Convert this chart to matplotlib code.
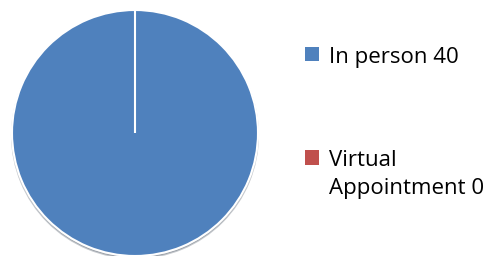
import matplotlib.pyplot as plt

# Appointment type counts
labels = ['In person', 'Virtual\nAppointment']
counts = [40, 0]
colors = ['#4F81BD', '#C0504D']

plt.rcParams['font.family'] = ['Open Sans', 'DejaVu Sans']

fig = plt.figure(figsize=(4.92, 2.56), dpi=100)
ax = fig.add_axes([12 / 492, 0.0, 246 / 492, 246 / 256])

wedges, _ = ax.pie(counts, colors=colors, startangle=90, counterclock=False,
                   radius=1.0,
                   wedgeprops=dict(edgecolor='white', linewidth=1.5),
                   shadow=dict(ox=0.0, oy=-0.012, alpha=0.25))
for w in wedges:
    w.set_clip_on(False)
ax.set_xlim(-1, 1)
ax.set_ylim(-1, 1)
ax.set_aspect('equal')

leg_labels = [f'{l} {c}' for l, c in zip(labels, counts)]
leg = fig.legend(wedges, leg_labels, loc='upper left',
                 bbox_to_anchor=(305 / 492, 1 - 47 / 256),
                 frameon=False, fontsize=16, handlelength=0.62, handleheight=0.62,
                 handletextpad=0.47, labelspacing=3.7, borderaxespad=0,
                 borderpad=0)
for t in leg.get_texts():
    t.set_linespacing(1.43)
for h in leg.legend_handles:
    h.set_edgecolor('none')
# marker next to the first line of a wrapped label, like the original
for row in leg._legend_handle_box.get_children():
    for item in row.get_children():
        item.align = 'top'

fig.savefig('out.png', dpi=100)
